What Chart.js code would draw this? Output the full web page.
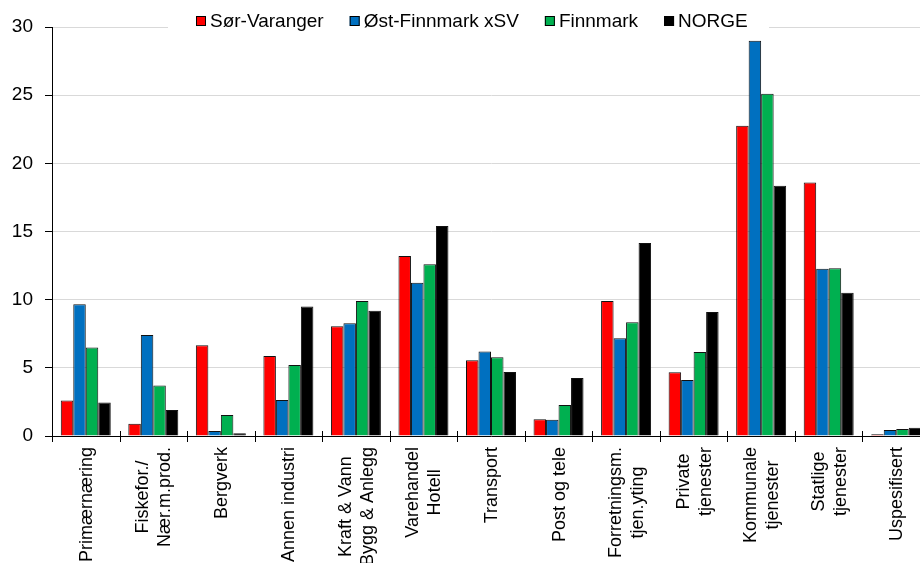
<!DOCTYPE html>
<html>
<head>
<meta charset="utf-8">
<script src="https://cdn.jsdelivr.net/npm/chart.js@4"></script>
<style>
  html, body { margin: 0; padding: 0; background: #fff; overflow: hidden; }
  #wrap { width: 930px; height: 563px; }
</style>
</head>
<body>
<div id="wrap"><canvas id="chart" width="930" height="563"></canvas></div>
<script>
const categories = [
  "Primærnæring",
  ["Fiskefor./", "Nær.m.prod."],
  "Bergverk",
  "Annen industri",
  ["Kraft & Vann", "Bygg & Anlegg"],
  ["Varehandel", "Hotell"],
  "Transport",
  "Post og tele",
  ["Forretningsm.", "tjen.yting"],
  ["Private", "tjenester"],
  ["Kommunale", "tjenester"],
  ["Statlige", "tjenester"],
  "Uspesifisert"
];

const sorVaranger = [2.6, 0.9, 6.65, 5.87, 8.05, 13.2, 5.55, 1.22, 9.9, 4.67, 22.76, 18.6, 0.12];
const ostFinnmark = [9.67, 7.4, 0.37, 2.64, 8.27, 11.25, 6.2, 1.2, 7.17, 4.1, 29.0, 12.26, 0.44];
const finnmark = [6.5, 3.7, 1.54, 5.2, 9.9, 12.6, 5.77, 2.28, 8.35, 6.17, 25.1, 12.3, 0.51];
const norge = [2.45, 1.9, 0.2, 9.5, 9.18, 15.4, 4.7, 4.26, 14.15, 9.1, 18.35, 10.5, 0.6];

const seriesNames = ["Sør-Varanger", "Øst-Finnmark xSV", "Finnmark", "NORGE"];
const seriesColors = ["#ff0000", "#0070c0", "#00b050", "#000000"];

const FONT = "'Liberation Sans', Arial, sans-serif";

// legend sits on top of the plot area, drawn by hand
const legendOnTop = {
  id: "legendOnTop",
  afterDraw(chart) {
    const ctx = chart.ctx;
    ctx.save();
    ctx.font = "19px " + FONT;
    ctx.fillStyle = "#fff";
    ctx.fillRect(168, 8, 601, 26);
    let x = 196;
    const y = 21;
    chart.data.datasets.forEach((ds) => {
      ctx.fillStyle = ds.backgroundColor;
      ctx.fillRect(x, y - 5, 10, 10);
      ctx.strokeStyle = "#000";
      ctx.lineWidth = 1;
      ctx.strokeRect(x + 0.5, y - 4.5, 9, 9);
      ctx.fillStyle = "#000";
      ctx.textBaseline = "middle";
      ctx.fillText(ds.label, x + 14, y + 1);
      x += 14 + ctx.measureText(ds.label).width + 26;
    });
    ctx.restore();
  }
};

// vertical category labels, lines centred on each other, block hanging from the axis
// plus the small tick marks that cross the x axis
const xLabels = {
  id: "xLabels",
  afterDraw(chart) {
    const ctx = chart.ctx;
    const xs = chart.scales.x;
    const top = xs.top;
    ctx.save();
    ctx.strokeStyle = "#000";
    ctx.lineWidth = 1;
    const step = xs.getPixelForValue(1) - xs.getPixelForValue(0);
    for (let i = 0; i <= categories.length; i++) {
      const bx = Math.round(xs.getPixelForValue(i) - step / 2) + 0.5;
      ctx.beginPath();
      ctx.moveTo(bx, top - 5);
      ctx.lineTo(bx, top + 6);
      ctx.stroke();
    }
    ctx.font = "18px " + FONT;
    ctx.fillStyle = "#000";
    ctx.textAlign = "center";
    ctx.textBaseline = "middle";
    const lineH = 22;
    categories.forEach((lab, i) => {
      const lines = Array.isArray(lab) ? lab : [lab];
      const w = Math.max(...lines.map((l) => ctx.measureText(l).width));
      const cx = xs.getPixelForValue(i);
      const cy = top + 11 + w / 2;
      ctx.save();
      ctx.translate(cx, cy);
      ctx.rotate(-Math.PI / 2);
      lines.forEach((l, k) => {
        const off = (k - (lines.length - 1) / 2) * lineH;
        ctx.fillText(l, 0, off + 1);
      });
      ctx.restore();
    });
    ctx.restore();
  }
};

const ctx = document.getElementById("chart").getContext("2d");

const chart = new Chart(ctx, {
  type: "bar",
  data: {
    labels: categories,
    datasets: [sorVaranger, ostFinnmark, finnmark, norge].map((d, i) => ({
      label: seriesNames[i],
      data: d,
      backgroundColor: seriesColors[i],
      borderColor: "#111",
      borderWidth: 1,
      categoryPercentage: 0.74,
      barPercentage: 1.0
    }))
  },
  options: {
    responsive: false,
    animation: false,
    devicePixelRatio: 1,
    layout: { padding: { top: 27, right: 0, bottom: 0, left: 0 } },
    plugins: {
      legend: { display: false },
      tooltip: { enabled: false }
    },
    scales: {
      x: {
        offset: true,
        grid: { display: false },
        border: { color: "#000", width: 1 },
        ticks: { display: false },
        afterFit(axis) { axis.height = 127; }
      },
      y: {
        min: 0,
        max: 30,
        grid: {
          color: "#d9d9d9",
          tickLength: 7,
          tickColor: "#000"
        },
        border: { color: "#000", width: 1 },
        ticks: {
          stepSize: 5,
          color: "#000",
          font: { family: FONT, size: 19 },
          padding: 12
        },
        afterFit(axis) { axis.width = 52; }
      }
    }
  },
  plugins: [legendOnTop, xLabels]
});
</script>
</body>
</html>
